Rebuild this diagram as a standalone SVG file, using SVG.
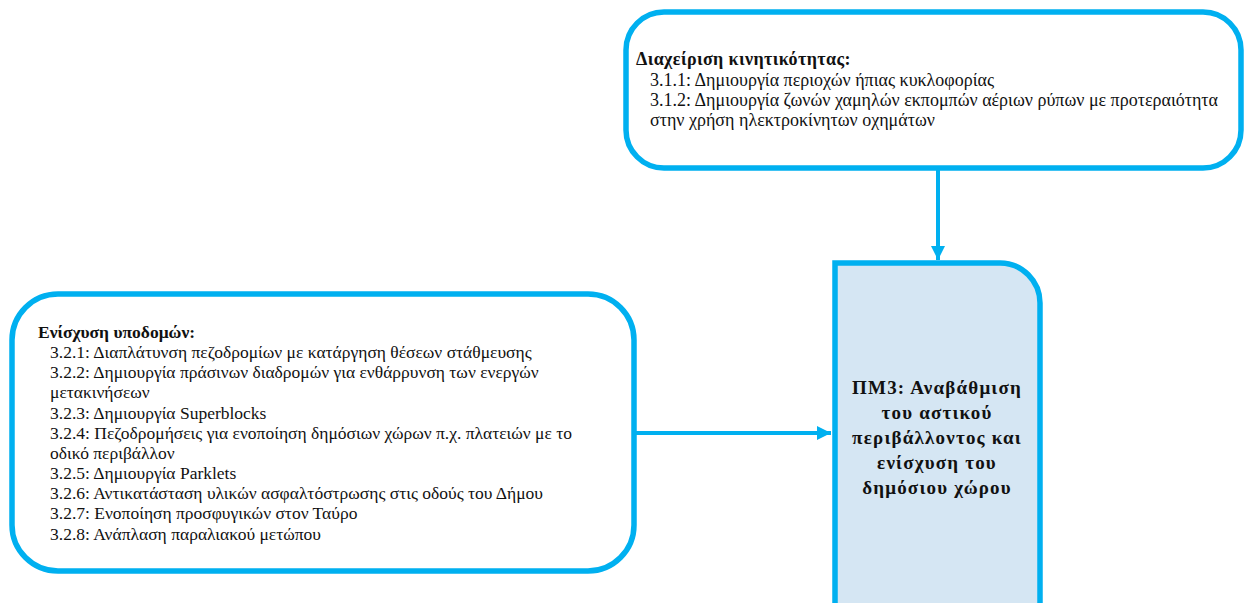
<svg xmlns="http://www.w3.org/2000/svg" width="1244" height="603" viewBox="0 0 1244 603">
<style>
.box{fill:#ffffff;stroke:#00b0f0;stroke-width:5.5}
.main{fill:#d5e6f3;stroke:#00b0f0;stroke-width:5.5}
.conn{stroke:#00b0f0;stroke-width:4;fill:none}
.t{font-family:"Liberation Serif","Times New Roman",serif;fill:#111111}
.top{font-size:18px}
.left{font-size:17.5px}
.b{font-weight:bold}
.ls{letter-spacing:0.4px}
.c{font-family:"Liberation Serif","Times New Roman",serif;font-size:19px;font-weight:bold;fill:#111111;text-anchor:middle;letter-spacing:1.2px}
</style>
<defs>
<marker id="arr" viewBox="0 0 10 10" refX="10" refY="5" markerWidth="3.5" markerHeight="3.5" orient="auto" markerUnits="strokeWidth">
<path d="M0,0 L10,5 L0,10 z" fill="#00b0f0"/>
</marker>
</defs>
<g id="connectors">
<line class="conn" x1="938" y1="170" x2="938" y2="260" marker-end="url(#arr)"/>
<line class="conn" x1="636" y1="433" x2="831" y2="433" marker-end="url(#arr)"/>
</g>
<g id="node-mobility">
<rect class="box" x="626" y="12" width="615" height="156" rx="38" ry="38"/>
<text class="t top b ls" x="636" y="65">Διαχείριση κινητικότητας:</text>
<text class="t top" x="650" y="86">3.1.1: Δημιουργία περιοχών ήπιας κυκλοφορίας</text>
<text class="t top" x="650" y="106">3.1.2: Δημιουργία ζωνών χαμηλών εκπομπών αέριων ρύπων με προτεραιότητα</text>
<text class="t top" x="650" y="126">στην χρήση ηλεκτροκίνητων οχημάτων</text>
</g>
<g id="node-infrastructure">
<rect class="box" x="12" y="294" width="622" height="277" rx="46" ry="46"/>
<text class="t left b" x="38" y="338">Ενίσχυση υποδομών:</text>
<text class="t left" x="50" y="358">3.2.1: Διαπλάτυνση πεζοδρομίων με κατάργηση θέσεων στάθμευσης</text>
<text class="t left" x="50" y="378">3.2.2: Δημιουργία πράσινων διαδρομών για ενθάρρυνση των ενεργών</text>
<text class="t left" x="50" y="398">μετακινήσεων</text>
<text class="t left" x="50" y="419">3.2.3: Δημιουργία Superblocks</text>
<text class="t left" x="50" y="439">3.2.4: Πεζοδρομήσεις για ενοποίηση δημόσιων χώρων π.χ. πλατειών με το</text>
<text class="t left" x="50" y="459">οδικό περιβάλλον</text>
<text class="t left" x="50" y="479">3.2.5: Δημιουργία Parklets</text>
<text class="t left" x="50" y="499">3.2.6: Αντικατάσταση υλικών ασφαλτόστρωσης στις οδούς του Δήμου</text>
<text class="t left" x="50" y="519">3.2.7: Ενοποίηση προσφυγικών στον Ταύρο</text>
<text class="t left" x="50" y="540">3.2.8: Ανάπλαση παραλιακού μετώπου</text>
</g>
<g id="node-pm3">
<path class="main" d="M835,263 H1000 A40,40 0 0 1 1040,303 V620 H835 Z"/>
<text class="c" x="937" y="394">ΠΜ3: Αναβάθμιση</text>
<text class="c" x="937" y="419">του αστικού</text>
<text class="c" x="937" y="444">περιβάλλοντος και</text>
<text class="c" x="937" y="469">ενίσχυση του</text>
<text class="c" x="937" y="494">δημόσιου χώρου</text>
</g>
</svg>
